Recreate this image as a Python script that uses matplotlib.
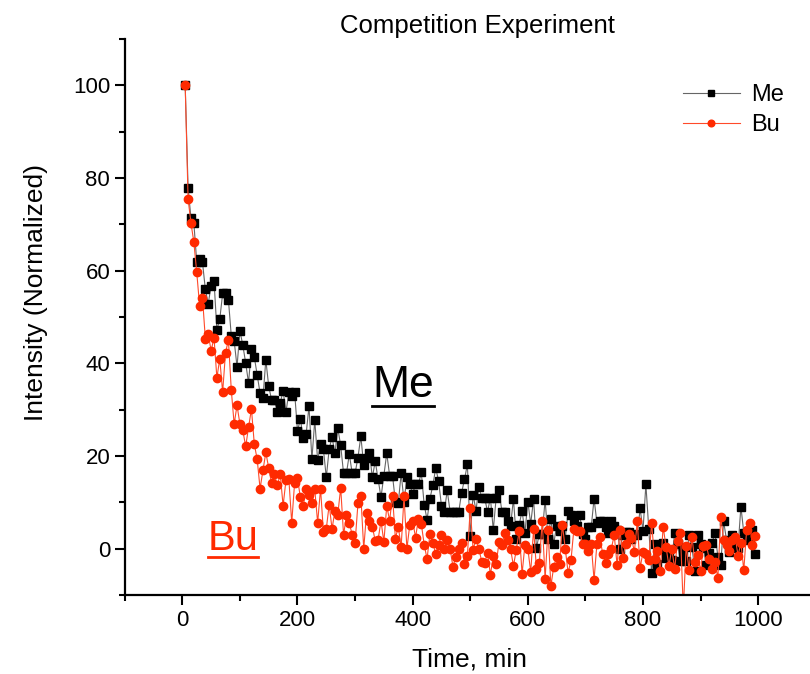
import matplotlib
matplotlib.use("Agg")
import matplotlib.pyplot as plt
import numpy as np

plt.rcParams['font.family'] = ['Liberation Sans', 'DejaVu Sans']

# sampling times (min), one reading every 5 min
time_min = np.arange(5, 1000, 5)

me_intensity = [
    100, 77.9, 71.4, 70.3, 62, 62.5, 61.8, 56, 52.9, 56.8,
    57.9, 47.3, 49.5, 55.1, 55.1, 53.8, 46, 44.9, 39.3, 47,
    44, 40.1, 35.8, 43.2, 41.4, 37.5, 33.6, 32.5, 40.8, 35.1,
    32.1, 32.1, 29.5, 31.5, 34.1, 29.5, 33.8, 33, 33.8, 25.4,
    28, 23.9, 24.7, 30.8, 19.3, 27.8, 19.1, 22.6, 21.5, 15.4,
    21.5, 24.1, 20.6, 26, 22.3, 16.3, 16.3, 20.4, 16.3, 16.3,
    19.7, 24.3, 18, 19.5, 20.6, 15.4, 18.9, 15, 11.1, 15.8,
    20.6, 15.8, 15.8, 10.2, 9.8, 16.3, 10.2, 15.4, 13.9, 11.9,
    13.9, 13.9, 16.5, 9.5, 6.3, 10.8, 13.7, 17.4, 14.7, 9.3,
    8, 12.6, 8, 8, 8, 8, 12.1, 15, 18.2, 2.8,
    11.7, 8.2, 13.4, 11, 11, 8, 11, 4.1, 11, 12.6,
    8, 8, 6, 5, 10.8, 2.2, 5.2, 8.2, 3.5, 10.2,
    5.4, 10.8, 0.2, 3.3, 3.3, 10.6, 2.2, 6.5, 1.1, 5,
    3.9, 5, 2.2, 8.2, 7.4, 6.1, 5, 7.4, 3.3, 2.2,
    4.6, 4.6, 10.8, 5.6, 6.1, 6.1, 4.8, 3.5, 6.1, 5,
    4.1, 0, 3, 3.7, 3.7, 2.2, 3.3, 3, 8.7, 3.9,
    13.9, 4.3, -5.2, 1, -3.3, 0, 1.3, -2, -0.7, -2.4,
    3.5, 1, -2.6, -0.7, -2.6, 3, 0.4, -4.8, 3, 1,
    0.2, -3.5, -0.9, 1.3, 3.5, -1.7, -3.5, 5.9, 2, -0.7,
    3, 1, 0.2, 9.1, 3.5, 2, 2.4, 4, -1.1,
]

bu_intensity = [
    100, 75.5, 70.3, 66.2, 59.7, 52.5, 54.2, 45.3, 46.4, 42.7,
    45.6, 36.9, 41, 33.8, 42.3, 45.1, 34.3, 26.9, 31, 26.9,
    25.6, 22.1, 26.2, 30.2, 22.6, 19.3, 13, 16.9, 20.8, 17.4,
    14.1, 16.1, 13.7, 16.1, 9.3, 14.8, 15, 5.6, 14.3, 15.2,
    11.1, 9.3, 13, 11.7, 9.8, 12.8, 5.6, 13, 3.7, 4.3,
    9.5, 4.3, 8.2, 7.4, 13.2, 3, 7.2, 5.6, 3, 1.3,
    9.8, 11.5, 0, 7.8, 6.1, 4.8, 1.7, 2, 6, 1.5,
    9.3, 6.1, 11.5, 2.2, 4.8, 0.4, 11.3, 0, 5.2, 6.1,
    2.4, 6.5, 5.4, 0.9, -2.2, 3.3, 1.3, -1.1, 0.9, 3,
    0, 2, 0, -3.9, -1.7, 0, 1.3, -3.3, -1.5, 8.7,
    -0.2, 2.2, 0, -2.8, -3, -0.9, -5.6, -1.5, -3.3, 1.5,
    0.9, 3.5, 2, 0, -3.7, -0.2, 3.9, -5.4, 0.9, 0,
    -5, 4.3, -4.3, -3, 6.1, -6.5, 4.1, -8, -3.9, -1.7,
    -3.3, 5.2, 0, -5.2, -2.4, 4.3, 3.9, 3.9, 1.1, 1.1,
    -0.4, 1.1, -6.7, 1.1, 2.6, -1.1, -3, -1.1, 0, 3,
    -3.5, 4.1, -2, 1.1, 3.3, 2.4, -0.7, 5.9, -4.1, -0.7,
    -1.1, -2.4, 5.6, -2.2, -0.4, -4.8, 4.8, 0.4, -3.7, 0,
    -4.3, 1.7, 3.5, -13, 0.7, -4.6, 2.6, -2.8, -1.3, -4.8,
    0.7, 0.9, -2.2, -4.3, -2.8, -6.3, 6.9, 2, 0.9, -0.4,
    2, 2.6, -1.5, 1.3, -4.6, 4.1, 5.6, 0.9, 2.8,
]

red = '#ff2a00'

fig = plt.figure(figsize=(8.1, 6.74), dpi=100)
ax = fig.add_axes([0.154, 0.117, 0.846, 0.825])

ax.plot(time_min, me_intensity, color='#666666', lw=0.8, marker='s',
        markersize=5.3, markerfacecolor='black', markeredgecolor='black',
        label='Me')
ax.plot(time_min, bu_intensity, color='#ff4a2a', lw=0.8, marker='o',
        markersize=6, markerfacecolor=red, markeredgecolor=red,
        label='Bu')

ax.set_xlim(-100, 1090)
ax.set_ylim(-10, 110)
ax.set_xticks([0, 200, 400, 600, 800, 1000])
ax.set_xticks(np.arange(-100, 1100, 100), minor=True)
ax.set_yticks([0, 20, 40, 60, 80, 100])
ax.set_yticks(np.arange(-10, 111, 10), minor=True)
ax.tick_params(which='major', direction='out', length=7, width=1.5,
               labelsize=16)
ax.tick_params(which='minor', direction='out', length=4, width=1.5)

for s in ['top', 'right']:
    ax.spines[s].set_visible(False)
for s in ['left', 'bottom']:
    ax.spines[s].set_linewidth(1.6)

fig.text(477 / 810, 1 - 26 / 674, 'Competition Experiment', fontsize=18.5,
         ha='center', va='center')
fig.text(470 / 810, 1 - 660 / 674, 'Time, min', fontsize=19,
         ha='center', va='center')
fig.text(36 / 810, 1 - 292 / 674, 'Intensity (Normalized)', fontsize=19,
         ha='center', va='center', rotation=90)

leg = ax.legend(loc='upper left', bbox_to_anchor=(683 / 810, 1 - 84 / 674),
                bbox_transform=fig.transFigure, frameon=False, fontsize=17,
                handlelength=2.4, handletextpad=0.5, borderpad=0,
                borderaxespad=0, labelspacing=0.35, numpoints=1,
                markerscale=0.8)

# big underlined labels inside the plot
t_me = ax.text(383, 32.8, 'Me', fontsize=32, ha='center', va='baseline',
               color='black')
t_bu = ax.text(88, -0.2, 'Bu', fontsize=30, ha='center', va='baseline',
               color=red)

fig.canvas.draw()
inv = ax.transData.inverted()
for t, c, gap in [(t_me, 'black', 9), (t_bu, red, 7)]:
    bb = t.get_window_extent()
    x0 = inv.transform((bb.x0, 0))[0]
    x1 = inv.transform((bb.x1, 0))[0]
    # baseline in display coords, then a few pixels below it
    base = ax.transData.transform((0, t.get_position()[1]))[1]
    yy = inv.transform((0, base - gap))[1]
    ax.plot([x0, x1], [yy, yy], color=c, lw=2, clip_on=False)

fig.savefig('out.png', dpi=100)
